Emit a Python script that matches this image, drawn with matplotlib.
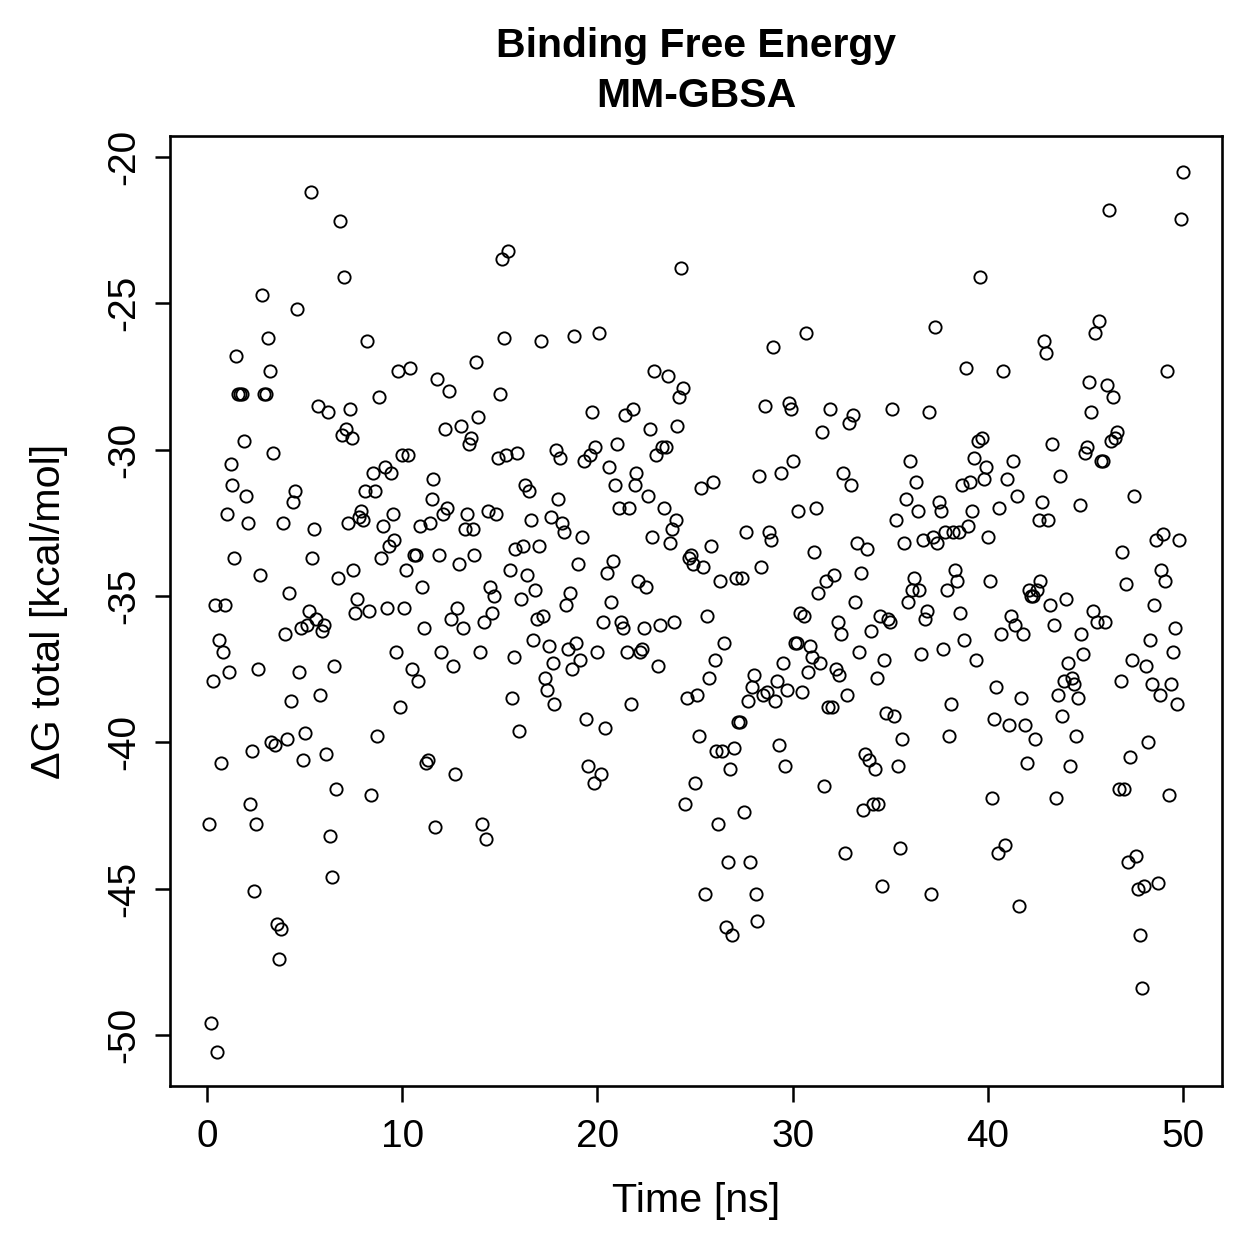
import numpy as np
import matplotlib
matplotlib.use("Agg")
import matplotlib.pyplot as plt

plt.rcParams['font.family'] = ['Liberation Sans', 'DejaVu Sans']

dG_total = [
    -42.8, -49.6, -37.9, -35.3, -50.6, -36.5, -40.7, -36.9, -35.3, -32.2,
    -37.6, -30.5, -31.2, -33.7, -26.8, -28.1, -28.1, -28.1, -29.7, -31.6,
    -32.5, -42.1, -40.3, -45.1, -42.8, -37.5, -34.3, -24.7, -28.1, -28.1,
    -26.2, -27.3, -40.0, -30.1, -40.1, -46.2, -47.4, -46.4, -32.5, -36.3,
    -39.9, -34.9, -38.6, -31.8, -31.4, -25.2, -37.6, -36.1, -40.6, -39.7,
    -36.0, -35.5, -21.2, -33.7, -32.7, -35.8, -28.5, -38.4, -36.2, -36.0,
    -40.4, -28.7, -43.2, -44.6, -37.4, -41.6, -34.4, -22.2, -29.5, -24.1,
    -29.3, -32.5, -28.6, -29.6, -34.1, -35.6, -35.1, -32.3, -32.1,
    -32.4, -31.4, -26.3, -35.5, -41.8, -30.8, -31.4, -39.8, -28.2, -33.7,
    -32.6, -30.6, -35.4, -33.3, -30.8, -32.2, -33.1, -36.9, -27.3, -38.8,
    -30.2, -35.4, -34.1, -30.2, -27.2, -37.5, -33.6, -33.6, -37.9, -32.6,
    -34.7, -36.1, -40.7, -40.6, -32.5, -31.7, -31.0, -42.9, -27.6, -33.6,
    -36.9, -32.2, -29.3, -32.0, -28.0, -35.8, -37.4, -41.1, -35.4, -33.9,
    -29.2, -36.1, -32.7, -32.2, -29.8, -29.6, -32.7, -33.6, -27.0,
    -28.9, -36.9, -42.8, -35.9, -43.3, -32.1, -34.7, -35.6, -35.0, -32.2,
    -30.3, -28.1, -23.5, -26.2, -30.2, -23.2, -34.1, -38.5, -37.1, -33.4,
    -30.1, -39.6, -35.1, -33.3, -31.2, -34.3, -31.4, -32.4, -36.5, -34.8,
    -35.8, -33.3, -26.3, -35.7, -37.8, -38.2, -36.7, -32.3, -37.3, -38.7,
    -30.0, -31.7, -30.3, -32.5, -32.8, -35.3, -36.8, -34.9, -37.5, -26.1,
    -36.6, -33.9, -37.2, -33.0, -30.4, -39.2, -40.8, -30.2, -28.7, -41.4,
    -29.9, -36.9, -26.0, -41.1, -35.9, -39.5, -34.2, -30.6, -35.2, -33.8,
    -31.2, -29.8, -32.0, -35.9, -36.1, -28.8, -36.9, -32.0, -38.7, -28.6,
    -31.2, -30.8, -34.5, -36.9, -36.8, -36.1, -34.7, -31.6, -29.3, -33.0,
    -27.3, -30.2, -37.4, -36.0, -29.9, -32.0, -29.9, -27.5, -33.2, -32.7,
    -35.9, -32.4, -29.2, -28.2, -23.8, -27.9, -42.1, -38.5, -33.7, -33.6,
    -33.9, -41.4, -38.4, -39.8, -31.3, -34.0, -45.2, -35.7, -37.8, -33.3,
    -31.1, -37.2, -40.3, -42.8, -34.5, -40.3, -36.6, -46.3, -44.1, -40.9,
    -46.6, -40.2, -34.4, -39.3, -39.3, -34.4, -42.4, -32.8, -38.6, -44.1,
    -38.1, -37.7, -45.2, -46.1, -30.9, -34.0, -38.4, -28.5, -38.3, -32.8,
    -33.1, -26.5, -38.6, -37.9, -40.1, -30.8, -37.3, -40.8, -38.2, -28.4,
    -28.6, -30.4, -36.6, -36.6, -32.1, -35.6, -38.3, -35.7, -26.0, -37.6,
    -36.7, -37.1, -33.5, -32.0, -34.9, -37.3, -29.4, -41.5, -34.5, -38.8,
    -28.6, -38.8, -34.3, -37.5, -35.9, -37.7, -36.3, -30.8, -43.8, -38.4,
    -29.1, -31.2, -28.8, -35.2, -33.2, -36.9, -34.2, -42.3, -40.4, -33.4,
    -40.6, -36.2, -42.1, -40.9, -37.8, -42.1, -35.7, -44.9, -37.2, -39.0,
    -35.8, -35.9, -28.6, -39.1, -32.4, -40.8, -43.6, -39.9, -33.2, -31.7,
    -35.2, -30.4, -34.8, -34.4, -31.1, -32.1, -34.8, -37.0, -33.1, -35.8,
    -35.5, -28.7, -45.2, -33.0, -25.8, -33.2, -31.8, -32.1, -36.8, -32.8,
    -34.8, -39.8, -38.7, -32.8, -34.1, -34.5, -32.8, -35.6, -31.2, -36.5,
    -27.2, -32.6, -31.1, -32.1, -30.3, -37.2, -29.7, -24.1, -29.6, -31.0,
    -30.6, -33.0, -34.5, -41.9, -39.2, -38.1, -43.8, -32.0, -36.3, -27.3,
    -43.5, -31.0, -39.4, -35.7, -30.4, -36.0, -31.6, -45.6, -38.5, -36.3,
    -39.4, -40.7, -34.8, -35.0, -35.0, -39.9, -34.8, -32.4, -34.5, -31.8,
    -26.3, -26.7, -32.4, -35.3, -29.8, -36.0, -41.9, -38.4, -30.9, -39.1,
    -37.9, -35.1, -37.3, -40.8, -37.8, -38.0, -39.8, -38.5, -31.9, -36.3,
    -37.0, -30.1, -29.9, -27.7, -28.7, -35.5, -26.0, -35.9, -25.6, -30.4,
    -30.4, -35.9, -27.8, -21.8, -29.7, -28.2, -29.6, -29.4, -41.6, -37.9,
    -33.5, -41.6, -34.6, -44.1, -40.5, -37.2, -31.6, -43.9, -45.0, -46.6,
    -48.4, -44.9, -37.4, -40.0, -36.5, -38.0, -35.3, -33.1, -44.8, -38.4,
    -34.1, -32.9, -34.5, -27.3, -41.8, -38.0, -36.9, -36.1, -38.7, -33.1,
    -22.1, -20.5,
]
total_time_ns = 50.0
time_ns = (np.arange(len(dG_total)) + 1) * (total_time_ns / len(dG_total))

x_ticks = [0, 10, 20, 30, 40, 50]
y_ticks = [-50, -45, -40, -35, -30, -25, -20]

fig = plt.figure(figsize=(1259 / 180, 1259 / 180), dpi=180)
ax = fig.add_axes([170 / 1259, 1 - 1086 / 1259, (1222 - 170) / 1259, (1086 - 136) / 1259])

ax.plot(time_ns, dG_total, linestyle='none', marker='o', markersize=4.9,
        markerfacecolor='none', markeredgecolor='black', markeredgewidth=0.75)

ax.set_xlim(-1.9, 52.0)
ax.set_ylim(-51.75, -19.28)
ax.set_xticks(x_ticks)
ax.set_yticks(y_ticks)
ax.set_xticklabels([str(v) for v in x_ticks], fontsize=15.5)
ax.set_yticklabels([str(v) for v in y_ticks], fontsize=15.5, rotation=90, va='center')
ax.tick_params(direction='out', length=6.2, width=1.0)
ax.tick_params(axis='x', pad=7)
ax.tick_params(axis='y', pad=5)
for s in ax.spines.values():
    s.set_linewidth(1.05)

ax.set_xlabel('Time [ns]', fontsize=16.5, labelpad=11)
ax.set_ylabel('ΔG total [kcal/mol]', fontsize=16.5, labelpad=15)
ax.set_title('Binding Free Energy\nMM-GBSA', fontsize=16.4, fontweight='bold', pad=11.5,
             linespacing=1.4)

fig.savefig('out.png', dpi=180)
